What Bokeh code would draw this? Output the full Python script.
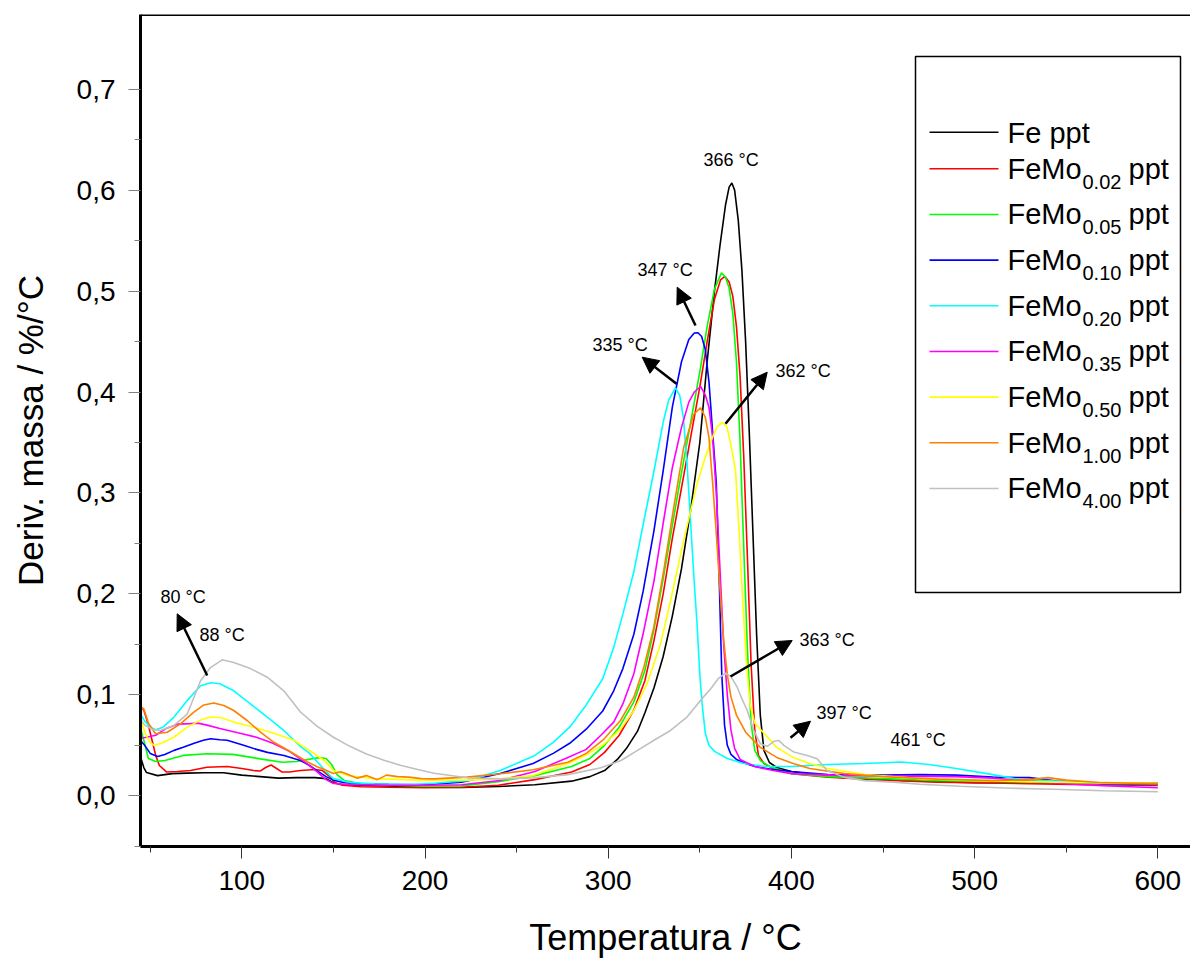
from bokeh.plotting import figure
from bokeh.models import (Range1d, FixedTicker, CustomJSTickFormatter, Span, Label,
                          Arrow, NormalHead, BoxAnnotation)
from bokeh.embed import file_html
from bokeh.resources import INLINE

FONT = "Liberation Sans"

# ---------------- data ----------------
fe_T = [45, 46.5, 48, 54, 62, 70, 80, 90, 100, 110, 120, 130, 140, 146, 150, 155, 165, 180, 200, 220,
        240, 260, 280, 290, 298, 305, 310, 316, 320, 325, 330, 335, 340, 345, 350, 354, 358, 361, 364, 366,
        367.5, 369, 371, 373, 375, 377, 379, 381, 383, 385, 388, 392, 400, 420, 450, 480, 500, 530, 560, 600]
fe_v = [0.037, 0.028, 0.023, 0.020, 0.022, 0.0225, 0.0228, 0.0228, 0.0205, 0.019, 0.0175, 0.018, 0.018, 0.017, 0.013, 0.011, 0.0102, 0.0098, 0.0085, 0.0082,
        0.0092, 0.011, 0.0145, 0.019, 0.025, 0.036, 0.047, 0.064, 0.082, 0.107, 0.138, 0.178, 0.225, 0.283, 0.35, 0.43, 0.50, 0.545, 0.585, 0.603,
        0.607, 0.600, 0.57, 0.52, 0.45, 0.36, 0.26, 0.16, 0.08, 0.045, 0.033, 0.028, 0.024, 0.019, 0.016, 0.014, 0.013, 0.0128, 0.0125, 0.0125]

mo002_T = [45, 46.5, 49, 51, 53, 55, 59, 65, 72, 81, 92, 100, 106.5, 110, 113, 116, 119, 122, 126, 132,
           140, 144, 148, 151, 155, 165, 180, 200, 220, 240, 260, 280, 290, 298, 306, 314, 320, 325, 330, 335,
           340, 345, 350, 354, 358, 361.3, 363.7, 366, 368, 370, 372, 374, 376, 378, 380, 382, 385, 390, 400, 420,
           450, 480, 500, 530, 560, 600]
mo002_v = [0.088, 0.085, 0.070, 0.055, 0.040, 0.030, 0.0235, 0.024, 0.025, 0.0283, 0.029, 0.027, 0.025, 0.0245, 0.028, 0.0305, 0.027, 0.0235, 0.0235, 0.025,
           0.026, 0.025, 0.019, 0.013, 0.0105, 0.009, 0.0085, 0.008, 0.0085, 0.0105, 0.016, 0.0235, 0.031, 0.043, 0.060, 0.085, 0.114, 0.154, 0.20, 0.255,
           0.305, 0.355, 0.405, 0.45, 0.492, 0.511, 0.5145, 0.509, 0.495, 0.465, 0.415, 0.335, 0.235, 0.13, 0.065, 0.04, 0.032, 0.027, 0.022, 0.0185,
           0.0155, 0.0135, 0.013, 0.012, 0.011, 0.0102]

mo005_T = [45, 46.5, 49, 53, 58, 68, 81, 95, 110, 122, 130, 136, 142, 146, 149, 152, 156, 165, 180, 200,
           220, 240, 260, 280, 290, 298, 306, 314, 320, 325, 330, 335, 340, 345, 350, 354, 358, 361.8, 364, 366,
           368, 370, 372, 374, 376, 378, 380, 383, 388, 400, 420, 450, 480, 500, 530, 560, 600]
mo005_v = [0.065, 0.055, 0.037, 0.034, 0.035, 0.040, 0.0416, 0.041, 0.0366, 0.0333, 0.034, 0.036, 0.0378, 0.037, 0.031, 0.021, 0.015, 0.012, 0.0105, 0.0095,
           0.0098, 0.014, 0.020, 0.029, 0.037, 0.050, 0.068, 0.093, 0.124, 0.165, 0.215, 0.268, 0.32, 0.37, 0.42, 0.465, 0.502, 0.518, 0.514, 0.503,
           0.478, 0.43, 0.35, 0.245, 0.145, 0.072, 0.045, 0.035, 0.029, 0.022, 0.019, 0.017, 0.015, 0.0145, 0.0135, 0.0125, 0.012]

mo010_T = [45, 47, 50, 54, 58, 63, 68, 74, 79, 83, 88, 92, 101, 108, 114, 123, 132, 137, 141, 146,
           150, 156, 165, 180, 200, 220, 241, 259, 270, 279, 288, 297, 303, 308, 314, 319, 325, 330, 335, 340,
           344, 347, 349, 351, 353, 355, 357, 359, 360.5, 362, 363.5, 365, 367, 370, 375, 380, 390, 400, 420, 450,
           470, 490, 510, 530, 545, 570, 600]
mo010_v = [0.054, 0.050, 0.042, 0.039, 0.041, 0.045, 0.048, 0.052, 0.055, 0.0565, 0.0555, 0.055, 0.050, 0.046, 0.043, 0.040, 0.035, 0.030, 0.025, 0.019,
           0.0155, 0.013, 0.012, 0.0115, 0.011, 0.0135, 0.022, 0.032, 0.042, 0.052, 0.066, 0.084, 0.104, 0.126, 0.160, 0.202, 0.263, 0.322, 0.385, 0.430,
           0.452, 0.4585, 0.4587, 0.455, 0.442, 0.41, 0.36, 0.31, 0.22, 0.12, 0.07, 0.05, 0.041, 0.036, 0.032, 0.029, 0.026, 0.024, 0.021, 0.0205,
           0.021, 0.0205, 0.0185, 0.018, 0.0145, 0.012, 0.0115]

mo020_T = [45, 47, 50, 53, 57, 63, 70, 77.5, 83, 88, 95.6, 104.7, 113.9, 122.9, 132, 137, 141, 146, 150, 160,
           172, 190, 205, 223, 241, 260, 270, 279, 288, 297, 303, 308, 314, 319, 325, 330, 333, 336.7, 339, 341,
           343, 345, 347, 348.5, 350, 351.3, 353, 355, 358, 365, 374, 386, 400, 420, 440, 460, 475, 490, 510, 525,
           545, 570, 600]
mo020_v = [0.080, 0.074, 0.068, 0.0655, 0.068, 0.078, 0.094, 0.109, 0.112, 0.111, 0.104, 0.091, 0.078, 0.0647, 0.049, 0.042, 0.034, 0.024, 0.017, 0.013,
           0.012, 0.011, 0.0125, 0.015, 0.025, 0.040, 0.053, 0.068, 0.090, 0.116, 0.147, 0.180, 0.222, 0.268, 0.322, 0.370, 0.392, 0.404, 0.397, 0.375,
           0.33, 0.27, 0.21, 0.17, 0.12, 0.09, 0.062, 0.05, 0.044, 0.037, 0.032, 0.029, 0.029, 0.031, 0.032, 0.0335, 0.031, 0.027, 0.021, 0.016,
           0.0145, 0.0125, 0.0119]

mo035_T = [45, 48, 53, 59, 65, 72, 76, 81, 88, 99, 108, 117, 126, 134, 141, 146, 150, 160, 180, 200,
           220, 241, 260, 278, 288, 296, 303, 308, 314, 319, 325, 330, 335, 340, 344, 347, 350.4, 353, 355, 357,
           359, 361, 363, 365, 367, 369, 372, 380, 390, 400, 430, 460, 490, 510, 530, 550, 570, 600]
mo035_v = [0.057, 0.058, 0.060, 0.067, 0.071, 0.0715, 0.072, 0.070, 0.0667, 0.062, 0.058, 0.052, 0.044, 0.034, 0.024, 0.016, 0.0122, 0.011, 0.0105, 0.0105,
           0.011, 0.0152, 0.024, 0.038, 0.046, 0.060, 0.073, 0.091, 0.121, 0.160, 0.213, 0.270, 0.325, 0.365, 0.390, 0.400, 0.4055, 0.397, 0.385, 0.355,
           0.30, 0.225, 0.15, 0.10, 0.065, 0.047, 0.036, 0.029, 0.025, 0.022, 0.020, 0.0195, 0.019, 0.0175, 0.0145, 0.012, 0.010, 0.008]

mo050_T = [45, 47, 49.5, 52, 56, 62.9, 70.2, 77.5, 82.9, 88.4, 95.6, 106.5, 117.5, 128.4, 136, 145, 150, 158, 172, 198,
           223, 241, 259, 279.4, 288.5, 297.6, 306.7, 314, 321.2, 328.5, 334, 341.2, 348.5, 352, 355.8, 359.4, 362.2, 364.9, 367.6, 369.5,
           371.5, 373.5, 375.5, 377.5, 380, 383, 387, 392, 401, 410, 420, 440, 470, 500, 530, 560, 600]
mo050_v = [0.075, 0.063, 0.054, 0.050, 0.052, 0.058, 0.068, 0.075, 0.078, 0.0775, 0.073, 0.068, 0.062, 0.055, 0.046, 0.035, 0.025, 0.020, 0.017, 0.0155,
           0.0155, 0.0168, 0.020, 0.033, 0.041, 0.051, 0.066, 0.0845, 0.111, 0.150, 0.193, 0.253, 0.309, 0.33, 0.35, 0.3655, 0.370, 0.365, 0.342, 0.322,
           0.26, 0.19, 0.13, 0.09, 0.072, 0.066, 0.058, 0.048, 0.038, 0.032, 0.027, 0.021, 0.017, 0.015, 0.014, 0.013, 0.0125]

mo100_T = [45, 46.5, 49, 52.9, 59.3, 66.5, 73.8, 79.3, 84.7, 90.2, 95.6, 102.9, 110.2, 117.5, 126.6, 135.7, 141.2, 145, 150, 154,
           158, 163, 168, 174, 179, 185, 191, 198, 205, 223, 241, 259, 278, 288, 297.6, 306.7, 314, 319.4, 324.9, 330.3,
           335.8, 341.2, 346.7, 350.4, 353, 355, 357, 359, 361, 363, 365, 367, 370, 375, 383, 392, 401, 410, 429, 450,
           480, 510, 530, 540, 550, 570, 600]
mo100_v = [0.088, 0.086, 0.072, 0.0614, 0.063, 0.0713, 0.0828, 0.090, 0.092, 0.0895, 0.0845, 0.0746, 0.063, 0.053, 0.0436, 0.0337, 0.0287, 0.026, 0.022, 0.0238,
           0.021, 0.0175, 0.020, 0.016, 0.0205, 0.019, 0.0185, 0.017, 0.0168, 0.0185, 0.0218, 0.0258, 0.0333, 0.042, 0.056, 0.0746, 0.0977, 0.127, 0.167, 0.223,
           0.286, 0.345, 0.378, 0.3844, 0.375, 0.355, 0.31, 0.26, 0.205, 0.155, 0.12, 0.098, 0.08, 0.063, 0.048, 0.038, 0.032, 0.027, 0.022, 0.019,
           0.0165, 0.015, 0.016, 0.018, 0.0155, 0.013, 0.012]

mo400_T = [45, 47, 51, 55.6, 62.9, 70.2, 77.5, 82.9, 89.3, 95.6, 104.7, 113.9, 122.9, 132, 141, 150, 159, 168, 178, 187,
           196, 205, 223, 241, 259, 278, 296, 307, 316, 325, 334, 343, 352, 356, 360, 364, 367, 370.4, 373, 375.9,
           379.5, 383.1, 386.8, 390.4, 393.2, 395.9, 401.3, 408.6, 414, 419.5, 428.6, 440, 456, 470, 492, 520, 543, 570, 600]
mo400_v = [0.075, 0.070, 0.066, 0.0647, 0.0696, 0.081, 0.114, 0.127, 0.1347, 0.132, 0.126, 0.1175, 0.104, 0.083, 0.069, 0.058, 0.049, 0.0415, 0.035, 0.030,
           0.026, 0.0224, 0.0178, 0.0168, 0.0178, 0.021, 0.0277, 0.035, 0.045, 0.055, 0.0647, 0.078, 0.098, 0.106, 0.116, 0.1215, 0.118, 0.1076, 0.096, 0.0845,
           0.0647, 0.0515, 0.049, 0.054, 0.0548, 0.0499, 0.0433, 0.040, 0.0367, 0.025, 0.0185, 0.015, 0.0135, 0.0115, 0.0095, 0.0075, 0.0065, 0.005, 0.004]

series_names = ["Fe ppt", "FeMo0.02 ppt", "FeMo0.05 ppt", "FeMo0.10 ppt", "FeMo0.20 ppt",
                "FeMo0.35 ppt", "FeMo0.50 ppt", "FeMo1.00 ppt", "FeMo4.00 ppt"]
legend_subs = [None, "0.02", "0.05", "0.10", "0.20", "0.35", "0.50", "1.00", "4.00"]
colors = ["#000000", "#FF0000", "#00FF00", "#0000FF", "#00FFFF", "#FF00FF", "#FFFF00", "#FF8000", "#C0C0C0"]
series_T = [fe_T, mo002_T, mo005_T, mo010_T, mo020_T, mo035_T, mo050_T, mo100_T, mo400_T]
series_v = [fe_v, mo002_v, mo005_v, mo010_v, mo020_v, mo035_v, mo050_v, mo100_v, mo400_v]

x_ticks = [100, 200, 300, 400, 500, 600]
x_minor = [50, 150, 250, 350, 450, 550]
y_ticks = [0.0, 0.1, 0.2, 0.3, 0.4, 0.5, 0.6, 0.7]
y_minor = [-0.05, 0.05, 0.15, 0.25, 0.35, 0.45, 0.55, 0.65]

# peak annotations: (text, left px, baseline px)
peak_labels = [("80 °C", 160, 603), ("88 °C", 199, 641), ("366 °C", 703, 166), ("347 °C", 637, 276),
               ("335 °C", 592, 351), ("362 °C", 775, 377), ("363 °C", 799, 646), ("397 °C", 816, 719),
               ("461 °C", 890, 746)]
# arrows: tail px -> head px
arrows_px = [((206.7, 675), (176.7, 613.3)), ((695, 325), (676.7, 286.7)), ((676, 383.3), (641.7, 356.7)),
             ((725, 423.3), (766.7, 371.7)), ((730, 676), (791.7, 640)), ((790, 737.3), (810, 720.7))]

# ---------------- frame geometry ----------------
W, H = 1190, 961
FL, FR, FT, FB = 140, 1190, 14, 846
X0, X1 = 44.70, 617.84
Y0, Y1 = -0.05023, 0.7740
SX = (FR - FL) / (X1 - X0)
SY = (FB - FT) / (Y1 - Y0)
BASE_FIX = 0.36  # em shift so that the given pixel is the visual baseline


def dx(px):
    return X0 + (px - FL) / SX


def dy(py):
    return Y0 + (FB - py) / SY


def add_text(txt, lx, by, fs):
    p.add_layout(Label(x=dx(lx), y=dy(by - BASE_FIX * fs), text=txt, text_font=FONT,
                       text_font_size=f"{fs}px", text_baseline="alphabetic", text_color="black"))


p = figure(width=W, height=H, x_range=Range1d(X0, X1), y_range=Range1d(Y0, Y1),
           output_backend="svg", toolbar_location=None,
           min_border_left=FL, min_border_right=0, min_border_top=FT, min_border_bottom=H - FB)
p.outline_line_color = None
p.grid.visible = False
p.background_fill_color = "white"
p.border_fill_color = "white"

for T, v, c in zip(series_T, series_v, colors):
    p.line(T, v, line_color=c, line_width=1.6)

# axes
xa = p.xaxis[0]
xa.ticker = FixedTicker(ticks=x_ticks, minor_ticks=x_minor)
xa.axis_line_width = 3
xa.axis_line_color = "black"
xa.major_tick_out = 12
xa.major_tick_in = 0
xa.minor_tick_out = 6
xa.minor_tick_in = 0
xa.major_tick_line_color = "#333333"
xa.minor_tick_line_color = "#333333"
xa.major_label_text_font = FONT
xa.major_label_text_font_size = "28px"
xa.major_label_text_color = "black"
xa.major_label_standoff = 12
xa.axis_label = "Temperatura / °C"
xa.axis_label_text_font = FONT
xa.axis_label_text_font_size = "36px"
xa.axis_label_text_font_style = "normal"
xa.axis_label_text_color = "black"
xa.axis_label_standoff = 24

ya = p.yaxis[0]
ya.ticker = FixedTicker(ticks=y_ticks, minor_ticks=y_minor)
ya.formatter = CustomJSTickFormatter(code="return tick.toFixed(1).replace('.', ',');")
ya.axis_line_width = 3
ya.axis_line_color = "black"
ya.major_tick_out = 12
ya.major_tick_in = 0
ya.minor_tick_out = 6
ya.minor_tick_in = 0
ya.major_tick_line_color = "#808080"
ya.minor_tick_line_color = "#808080"
ya.major_label_text_font = FONT
ya.major_label_text_font_size = "28px"
ya.major_label_text_color = "black"
ya.major_label_standoff = 13
ya.axis_label = "Deriv. massa / %/°C"
ya.axis_label_text_font = FONT
ya.axis_label_text_font_size = "35px"
ya.axis_label_text_font_style = "normal"
ya.axis_label_text_color = "black"
ya.axis_label_standoff = 24

# top frame line
p.add_layout(Span(location=Y1, dimension="width", line_color="black", line_width=3))

# legend
p.add_layout(BoxAnnotation(left=dx(915), right=dx(1180), top=dy(56), bottom=dy(592),
                           fill_alpha=0, line_color="black", line_width=1.5, line_alpha=1))
for i, (name, sub, c) in enumerate(zip(series_names, legend_subs, colors)):
    ly = 131.7 if i == 0 else 168.3 + (i - 1) * 45.67
    p.add_layout(Arrow(end=None, x_start=dx(929), y_start=dy(ly), x_end=dx(998), y_end=dy(ly),
                       line_color=c, line_width=1.6))
    if sub is None:
        add_text("Fe ppt", 1007, ly + 11, 29)
    else:
        add_text("FeMo", 1007, ly + 10.3, 29)
        add_text(sub, 1082, ly + 20, 20)
        add_text("ppt", 1128, ly + 10.3, 29)

# peak annotations
for txt, lx, by in peak_labels:
    add_text(txt, lx, by, 18)
for (tx, ty), (hx, hy) in arrows_px:
    p.add_layout(Arrow(end=NormalHead(size=16, fill_color="black", line_color="black"),
                       x_start=dx(tx), y_start=dy(ty), x_end=dx(hx), y_end=dy(hy),
                       line_color="black", line_width=2.5))

open("out.html", "w").write(file_html(p, INLINE))
